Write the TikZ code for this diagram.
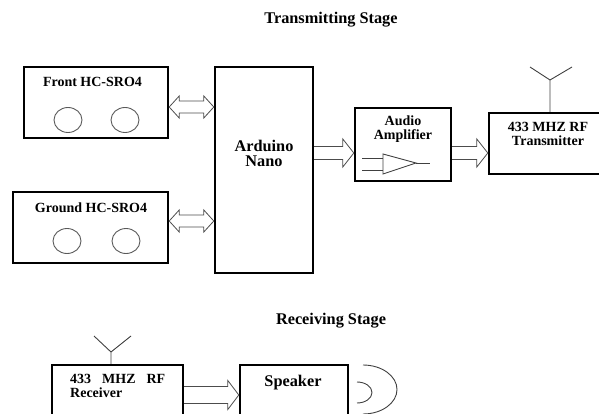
\documentclass[tikz,border=0pt]{standalone}
\usepackage{fontspec}
\setmainfont{Liberation Serif}
\usetikzlibrary{positioning,calc,shapes.geometric}

\begin{document}
\begin{tikzpicture}[x=1pt,y=-1pt,
blk/.style={draw,line width=2.4pt,inner sep=0pt},
eye/.style={ellipse,draw=black!65,line width=0.9pt,minimum width=28pt,minimum height=25pt,inner sep=0pt},
lbl/.style={font=\bfseries\fontsize{14}{14}\selectfont,inner sep=0pt,align=center,anchor=base},
big/.style={font=\bfseries\fontsize{16.3}{15}\selectfont,inner sep=0pt,align=center,anchor=base},
ant/.style={draw=black!75,line width=0.9pt},
dblfat/.style={draw=black!70,line width=0.8pt,
  to path={let \p1=(\tikztostart),\p2=(\tikztotarget) in
    (\x1,\y1) -- (\x1+10pt,\y1+11pt) -- (\x1+10pt,\y1+6pt) -- (\x2-10pt,\y2+6pt)
    -- (\x2-10pt,\y2+11pt) -- (\x2,\y2) -- (\x2-10pt,\y2-11pt) -- (\x2-10pt,\y2-6pt)
    -- (\x1+10pt,\y1-6pt) -- (\x1+10pt,\y1-11pt) -- cycle}},
onefat/.style 2 args={draw=black!70,line width=0.8pt,
  to path={let \p1=(\tikztostart),\p2=(\tikztotarget) in
    (\x1,\y1+#1) -- (\x2-11pt,\y2+#1) -- (\x2-11pt,\y2+#2) -- (\x2,\y2)
    -- (\x2-11pt,\y2-#2) -- (\x2-11pt,\y2-#1) -- (\x1,\y1-#1)}}]

\useasboundingbox (0,0) rectangle (599,414);
\clip (0,0) rectangle (599,414);

% transmitting stage
\node[big] (tstage) at (331,24) {Transmitting Stage};

\node[blk,minimum width=144pt,minimum height=71pt] (front) at (96,102.5) {};
\node[lbl] (frontlbl) at (92.5,87) {Front HC-SRO4};
\node[eye] (fe1) at (68,120) {};
\node[eye] (fe2) at (125,120) {};

\node[blk,minimum width=155pt,minimum height=71pt] (ground) at (90.5,227.5) {};
\node[lbl] (groundlbl) at (91,212) {Ground HC-SRO4};
\node[eye] (ge1) at (67,241) {};
\node[eye] (ge2) at (126,241) {};

\node[blk,minimum width=98pt,minimum height=206pt] (ardu) at (264,170) {};
\node[big] (ardulbl) at (264,167) {Arduino\\Nano};

\node[blk,minimum width=96pt,minimum height=73pt] (amp) at (403,144.5) {};
\node[lbl] (amplbl) at (403,140) {Audio\\Amplifier};
\draw[ant] (383,154) -- (383,174) -- (416,163) -- cycle;
\draw[ant] (416,163) -- (430,163);
\draw[ant] (362,158) -- (383,158);
\draw[ant] (362,170) -- (383,170);

\node[blk,minimum width=116pt,minimum height=61pt] (tx) at (547,143.5) {};
\node[lbl] (txlbl) at (548,146) {433 MHZ RF\\Transmitter};
\draw[ant] (tx.north -| 550,0) -- (550,80) coordinate (txtop) -- (530,67);
\draw[ant] (txtop) -- (572,67);

\draw[dblfat] (front.east |- 0,107) to (ardu.west |- 0,107);
\draw[dblfat] (ground.east |- 0,221) to (ardu.west |- 0,221);
\draw[onefat={6.5pt}{14pt}] (ardu.east |- 0,153) to (amp.west |- 0,153);
\draw[onefat={6.5pt}{14pt}] (amp.east |- 0,153) to (tx.west |- 0,153);

% receiving stage
\node[big] (rstage) at (331,324) {Receiving Stage};

\node[blk,minimum width=131pt,minimum height=65pt] (rx) at (117.5,397.5) {};
\node[lbl,align=left,text width=95pt,anchor=base west] (rxlbl) at (70,383) {433\hfill MHZ\hfill RF\\Receiver};
\draw[ant] (rx.north -| 111,0) -- (111,352) coordinate (rxtop) -- (94,336);
\draw[ant] (rxtop) -- (131,336);

\node[blk,minimum width=108pt,minimum height=65pt] (spk) at (294,397.5) {};
\node[big] (spklbl) at (293,386) {Speaker};
\draw[ant] (357,382) arc[start angle=-90,end angle=90,x radius=15,y radius=10.5];
\draw[ant] (363,365) arc[start angle=-90,end angle=90,x radius=34,y radius=24.5];

\draw[onefat={8.5pt}{14.5pt}] (rx.east |- 0,395) to (spk.west |- 0,395);
\end{tikzpicture}
\end{document}
